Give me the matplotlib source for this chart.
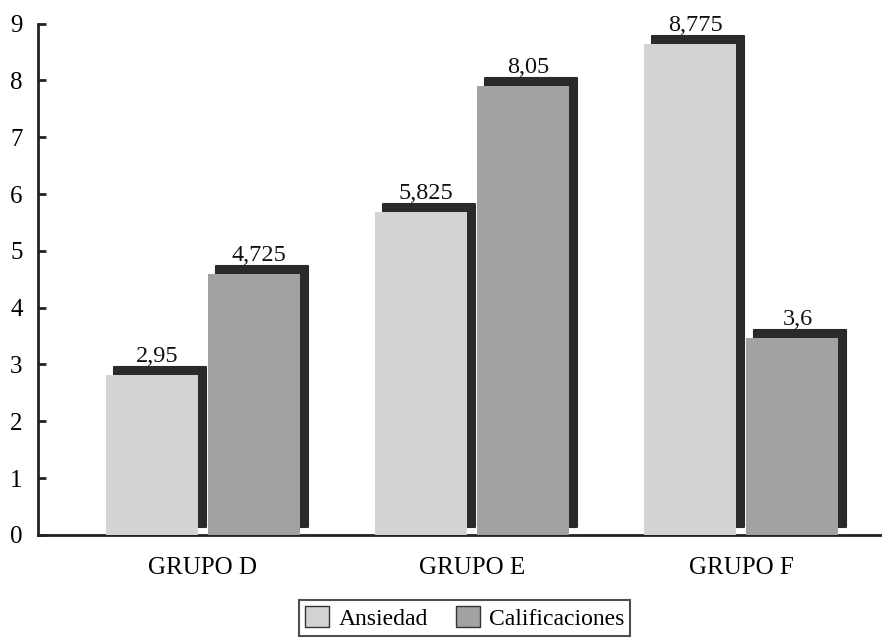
import matplotlib
matplotlib.use("Agg")
import matplotlib.pyplot as plt
import matplotlib.transforms as mtransforms
from matplotlib.patches import Patch
import numpy as np

# datos
grupos = ["GRUPO D", "GRUPO E", "GRUPO F"]
ansiedad = [2.95, 5.825, 8.775]
calificaciones = [4.725, 8.05, 3.6]
etiquetas_ans = ["2,95", "5,825", "8,775"]
etiquetas_cal = ["4,725", "8,05", "3,6"]

plt.rcParams['font.family'] = ['Liberation Serif', 'DejaVu Serif']

fig = plt.figure(figsize=(8.82, 6.39), dpi=100)
ax = fig.add_axes([0.043, 0.163, 0.957, 0.80])
ax.set_ylim(0, 9)
ax.set_xlim(-0.613, 2.524)

x = np.arange(len(grupos))
ancho = 0.342
desp = 0.19
sombra_px = 8  # desplazamiento de la sombra en pixeles

# pixeles -> unidades de datos en el eje y
alto_px = ax.get_position().height * fig.get_figheight() * fig.dpi
px_y = 9 / alto_px
off = sombra_px * px_y

tr_sombra = ax.transData + mtransforms.ScaledTranslation(sombra_px / 100, 0, fig.dpi_scale_trans)
tr_barra = ax.transData + mtransforms.ScaledTranslation(0, -sombra_px / 100, fig.dpi_scale_trans)

for serie, color, d, etiq in [(ansiedad, "#d3d3d3", -desp, etiquetas_ans),
                               (calificaciones, "#a2a2a2", desp, etiquetas_cal)]:
    vals = np.array(serie)
    sh = ax.bar(x + d, vals - off, bottom=off, width=ancho, color="#2a2a2a",
                edgecolor="#2a2a2a", linewidth=1.5, zorder=2)
    for p in sh:
        p.set_transform(tr_sombra)
        p.set_joinstyle("round")
    bb = ax.bar(x + d, vals, width=ancho, color=color, zorder=3)
    for p in bb:
        p.set_transform(tr_barra)
    for xi, v, t in zip(x + d, vals, etiq):
        ax.annotate(t, (xi, v), xytext=(sombra_px * 0.72 / 2 + 1, 0),
                    textcoords="offset points", ha="center", va="bottom",
                    fontsize=17.5, color="#111111")

ax.set_xticks(x)
ax.set_xticklabels(grupos, fontsize=18)
ax.set_yticks(range(0, 10))
ax.tick_params(axis="y", direction="in", length=6, width=2, pad=11,
               labelsize=18, color="#222222")
ax.tick_params(axis="x", length=0, pad=16)

for s in ["top", "right"]:
    ax.spines[s].set_visible(False)
ax.spines["left"].set_linewidth(2)
ax.spines["bottom"].set_linewidth(2)
ax.spines["left"].set_color("#222222")
ax.spines["bottom"].set_color("#222222")

handles = [Patch(facecolor="#d3d3d3", edgecolor="#333333", label="Ansiedad"),
           Patch(facecolor="#a2a2a2", edgecolor="#333333", label="Calificaciones")]
leg = fig.legend(handles=handles, loc="center", bbox_to_anchor=(0.527, 0.033),
                 ncol=2, fontsize=17, frameon=True, fancybox=False,
                 handlelength=1.0, handleheight=1.0, handletextpad=0.4,
                 columnspacing=1.2, borderpad=0.25)
leg.get_frame().set_edgecolor("#222222")
leg.get_frame().set_linewidth(1.5)

fig.savefig("out.png", dpi=100)
